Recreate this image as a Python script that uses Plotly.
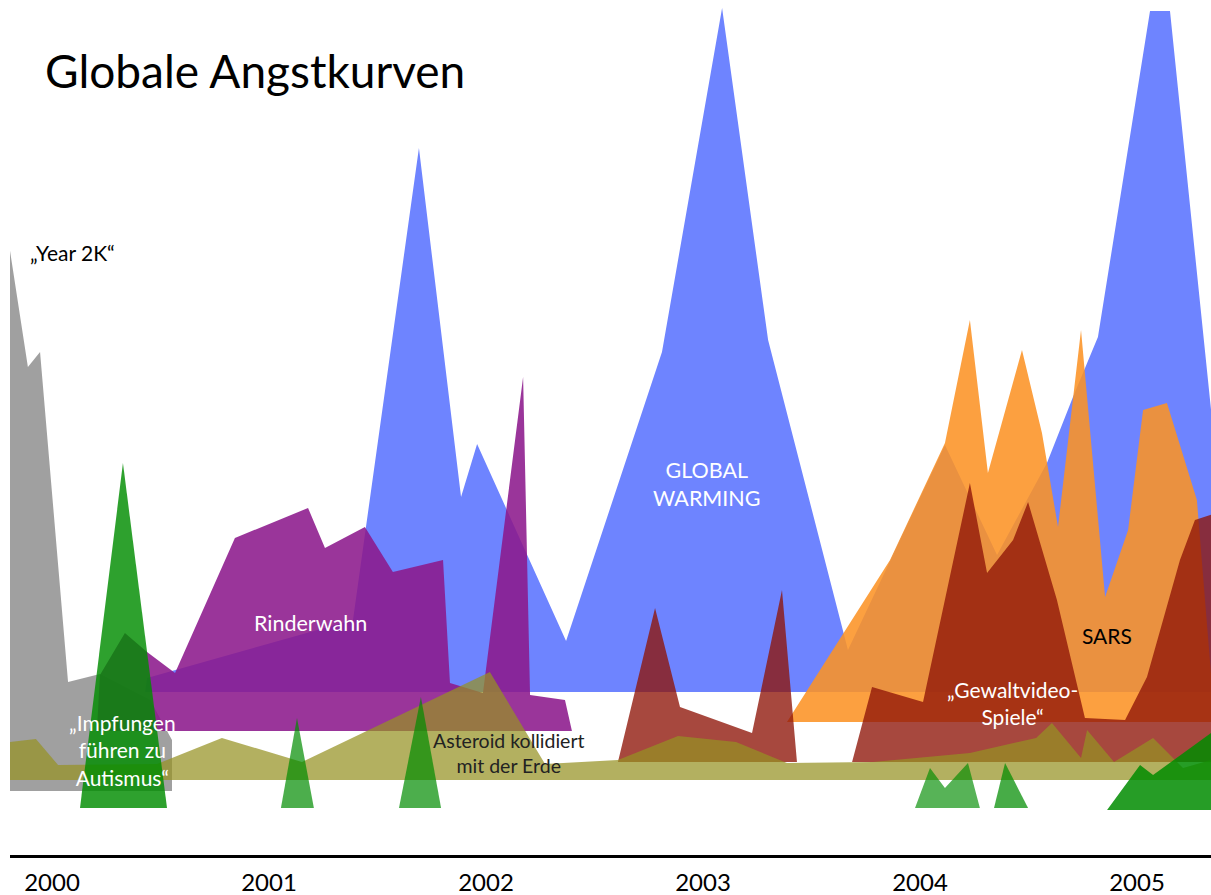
import plotly.graph_objects as go

# ---- data: outlines of each "fear curve" (x = year, y = fear level) ----
years = [2000, 2001, 2002, 2003, 2004, 2005]
year_labels = ["2000", "2001", "2002", "2003", "2004", "2005"]

y2k_x = [1999.806, 1999.806, 1999.889, 1999.945, 2000.074, 2000.221, 2000.452, 2000.553, 2000.553]
y2k_y = [64, 605, 488, 503, 173, 181, 155, 115, 64]

warming_x = [2000.429, 2000.438, 2001.387, 2001.691, 2001.885, 2001.959, 2002.369, 2002.811, 2003.088,
             2003.300, 2003.668, 2004.115, 2004.355, 2004.585, 2004.705, 2004.820, 2005.060, 2005.152, 2005.475]
warming_y = [163, 177, 235, 707, 358, 411, 214, 503, 847, 515, 205, 410, 300, 392, 458, 518, 844, 844, 163]

sars_x = [2003.387, 2003.862, 2004.115, 2004.230, 2004.313, 2004.470, 2004.562, 2004.636, 2004.742,
          2004.853, 2004.959, 2005.028, 2005.138, 2005.276, 2005.359]
sars_y = [133, 295, 412, 535, 382, 505, 422, 328, 525, 258, 325, 445, 452, 355, 133]

bse_x = [2000.207, 2000.221, 2000.336, 2000.438, 2000.567, 2000.843, 2001.180, 2001.258, 2001.442,
         2001.571, 2001.802, 2001.834, 2001.986, 2002.171, 2002.203, 2002.364, 2002.396]
bse_y = [124, 180, 222, 203, 182, 317, 347, 307, 328, 283, 295, 172, 162, 478, 160, 155, 124]

red1_x = [2002.608, 2002.654, 2002.779, 2002.894, 2003.226, 2003.364, 2003.433]
red1_y = [93, 135, 247, 148, 122, 265, 93]

games_x = [2003.687, 2003.779, 2004.014, 2004.230, 2004.309, 2004.429, 2004.498, 2004.631, 2004.760,
           2004.945, 2005.046, 2005.198, 2005.267, 2005.475, 2005.475]
games_y = [93, 168, 153, 372, 282, 315, 353, 255, 137, 135, 178, 295, 335, 350, 93]

asteroid_x = [1999.806, 1999.806, 1999.926, 2000.028, 2000.484, 2000.783, 2001.152, 2002.018, 2002.272,
              2002.608, 2002.885, 2003.152, 2003.387, 2003.783, 2004.230, 2004.535, 2004.608, 2004.742,
              2004.770, 2004.894, 2005.074, 2005.212, 2005.341, 2005.450, 2005.450]
asteroid_y = [75, 113, 116, 90, 91, 117, 93, 183, 91, 95, 119, 113, 92, 93, 102, 117, 132, 97,
              125, 93, 117, 87, 95, 95, 75]

vacc1_x = [2000.129, 2000.327, 2000.530]
vacc1_y = [47, 392, 47]
vacc2_x = [2001.055, 2001.129, 2001.207]
vacc2_y = [47, 137, 47]
vacc3_x = [2001.599, 2001.700, 2001.793]
vacc3_y = [47, 158, 47]
vacc4_x = [2003.977, 2004.046, 2004.115, 2004.221, 2004.276]
vacc4_y = [47, 87, 67, 92, 47]
vacc5_x = [2004.341, 2004.392, 2004.498]
vacc5_y = [47, 92, 47]
vacc6_x = [2004.862, 2004.931, 2005.014, 2005.074, 2005.475, 2005.475]
vacc6_y = [45, 65, 90, 80, 143, 45]

# ---- styling ----
layers = [
    (warming_x, warming_y, "rgb(110,132,255)"),
    (y2k_x, y2k_y, "rgba(150,150,150,0.9)"),
    (sars_x, sars_y, "rgba(252,147,38,0.88)"),
    (bse_x, bse_y, "rgba(140,25,140,0.88)"),
    (red1_x, red1_y, "rgba(142,20,8,0.78)"),
    (games_x, games_y, "rgba(142,20,8,0.78)"),
    (asteroid_x, asteroid_y, "rgba(150,145,35,0.72)"),
    (vacc1_x, vacc1_y, "rgba(0,140,0,0.82)"),
    (vacc2_x, vacc2_y, "rgba(0,140,0,0.70)"),
    (vacc3_x, vacc3_y, "rgba(0,140,0,0.70)"),
    (vacc4_x, vacc4_y, "rgba(0,140,0,0.66)"),
    (vacc5_x, vacc5_y, "rgba(0,140,0,0.72)"),
    (vacc6_x, vacc6_y, "rgba(0,140,0,0.85)"),
]

FONT = "Lato, 'Open Sans', sans-serif"

fig = go.Figure()
for xs, ys, col in layers:
    fig.add_trace(go.Scatter(
        x=xs, y=ys, mode="lines", fill="toself", fillcolor=col,
        line=dict(width=0, color=col), hoverinfo="skip", showlegend=False,
    ))

labels = [
    (1999.889, 603, "„Year 2K“", "black", 21, "left"),
    (2001.189, 232, "Rinderwahn", "white", 21.5, "center"),
    (2003.018, 371, "GLOBAL<br>WARMING", "white", 21.5, "center"),
    (2000.327, 105, "„Impfungen<br>führen zu<br>Autismus“", "white", 21, "center"),
    (2002.106, 102, "Asteroid kollidiert<br>mit der Erde", "#222222", 19.5, "center"),
    (2004.862, 220, "SARS", "black", 21, "center"),
    (2004.424, 152, "„Gewaltvideo-<br>Spiele“", "white", 21, "center"),
]
for x, y, t, c, s, anc in labels:
    fig.add_annotation(x=x, y=y, text=t, showarrow=False, xanchor=anc, yanchor="middle",
                       align="center", font=dict(family=FONT, size=s, color=c))

fig.update_layout(
    width=1211, height=895,
    margin=dict(l=10, r=0, t=0, b=40, autoexpand=False),
    paper_bgcolor="white", plot_bgcolor="white",
    title=dict(text="Globale Angstkurven", x=45 / 1211, xanchor="left", xref="container",
               y=1 - 72 / 895, yanchor="middle", yref="container",
               font=dict(family=FONT, size=46, color="black")),
    xaxis=dict(range=[1999.8065, 2005.341], tickvals=years, ticktext=year_labels,
               showgrid=False, zeroline=False, showline=True, linecolor="black", linewidth=3,
               ticks="", ticklabelstandoff=4, automargin=False,
               tickfont=dict(family=FONT, size=24, color="black"),
               fixedrange=True),
    yaxis=dict(range=[0, 855], visible=False, fixedrange=True, automargin=False),
)

fig.write_html(
    "out.html",
    config={"displayModeBar": False, "staticPlot": True},
    post_script="document.body.style.margin='0';document.body.style.overflow='hidden';",
)
